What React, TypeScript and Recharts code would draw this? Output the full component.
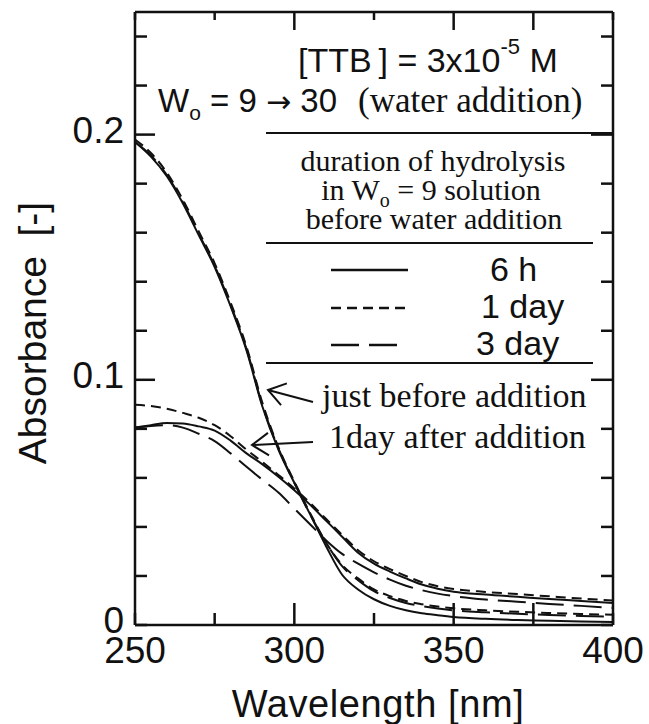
import { LineChart, Line, XAxis, YAxis } from "recharts";

const SANS = '"Liberation Sans", Arial, sans-serif';
const SERIF = '"Liberation Serif", "Times New Roman", serif';
const INK = "#111";

// wavelength grid [nm]
const wavelength = [250, 255, 260, 265, 270, 275, 280, 285, 290, 295, 300, 305, 310, 315, 320, 325, 330, 335, 340, 345, 350, 360, 370, 380, 390, 400];

// just before water addition (Wo = 9), by hydrolysis time
const before6h = [0.197, 0.191, 0.183, 0.172, 0.159, 0.146, 0.130, 0.112, 0.089, 0.0715, 0.058, 0.045, 0.032, 0.0205, 0.0145, 0.0105, 0.0078, 0.006, 0.0048, 0.004, 0.0033, 0.0025, 0.002, 0.0017, 0.0014, 0.0012];
const before1d = [0.198, 0.1925, 0.1845, 0.1735, 0.1605, 0.1475, 0.1315, 0.1135, 0.0905, 0.0725, 0.0585, 0.0455, 0.0335, 0.0245, 0.019, 0.0145, 0.0118, 0.0098, 0.0085, 0.0075, 0.0068, 0.006, 0.0054, 0.0049, 0.0045, 0.0042];
const before3d = [0.197, 0.1915, 0.1835, 0.1725, 0.1595, 0.1465, 0.1305, 0.1125, 0.0895, 0.072, 0.058, 0.045, 0.0335, 0.024, 0.0183, 0.0138, 0.011, 0.009, 0.0077, 0.0067, 0.006, 0.0052, 0.0046, 0.0041, 0.0037, 0.0034];

// 1 day after water addition (Wo = 30)
const after6h = [0.0805, 0.0815, 0.0824, 0.0822, 0.081, 0.0793, 0.0752, 0.070, 0.0655, 0.0605, 0.055, 0.049, 0.0425, 0.036, 0.0295, 0.025, 0.0218, 0.019, 0.0165, 0.0148, 0.0136, 0.0124, 0.0115, 0.0106, 0.0098, 0.009];
const after1d = [0.0898, 0.0893, 0.0882, 0.0865, 0.0845, 0.0815, 0.077, 0.0715, 0.0665, 0.0612, 0.0557, 0.0497, 0.0432, 0.0368, 0.0305, 0.026, 0.0228, 0.02, 0.0175, 0.0158, 0.0147, 0.0135, 0.0126, 0.0117, 0.0108, 0.01];
const after3d = [0.0805, 0.0812, 0.0815, 0.0805, 0.078, 0.075, 0.070, 0.0645, 0.0592, 0.054, 0.0475, 0.041, 0.0345, 0.029, 0.025, 0.0215, 0.0185, 0.016, 0.0142, 0.0128, 0.0118, 0.0104, 0.0095, 0.0086, 0.0078, 0.007];

const xTicks = [250, 275, 300, 325, 350, 375, 400];
const xMajor = [300, 350, 375];
const xLabels = [250, 300, 350, 400];
const yTicks = [0, 0.02, 0.04, 0.06, 0.08, 0.1, 0.12, 0.14, 0.16, 0.18, 0.2, 0.22, 0.24];
const yMajor = [0.1, 0.2];
const yLabels = [0, 0.1, 0.2];

const data = wavelength.map((w, i) => ({
  w,
  b6: before6h[i],
  b1: before1d[i],
  b3: before3d[i],
  a6: after6h[i],
  a1: after1d[i],
  a3: after3d[i],
}));

const has = (list: number[], v: number) => list.some((t) => Math.abs(t - v) < 1e-9);

const SHORT = "10 6";
const LONG = "28 10";

// inward ticks on all four sides of the frame
function BottomTick({ x, y, payload }: any) {
  const v = payload.value;
  const len = has(xMajor, v) ? 22 : 12;
  return (
    <g>
      <line x1={x} y1={y} x2={x} y2={y - len} stroke={INK} strokeWidth={2.5} />
      {has(xLabels, v) && (
        <text x={x} y={y + 38} textAnchor="middle" fontFamily={SANS} fontSize={37} fill={INK}>
          {v}
        </text>
      )}
    </g>
  );
}

function TopTick({ x, y, payload }: any) {
  const len = has(xMajor, payload.value) ? 18 : 8;
  return <line x1={x} y1={y} x2={x} y2={y + len} stroke={INK} strokeWidth={2.5} />;
}

function LeftTick({ x, y, payload }: any) {
  const v = payload.value;
  const len = has(yMajor, v) ? 20 : 12;
  return (
    <g>
      <line x1={x} y1={y} x2={x + len} y2={y} stroke={INK} strokeWidth={2.5} />
      {has(yLabels, v) && (
        <text x={x - 11} y={y - 4} dy="0.33em" textAnchor="end" fontFamily={SANS} fontSize={37} fill={INK}>
          {v === 0 ? "0" : v.toFixed(1)}
        </text>
      )}
    </g>
  );
}

function RightTick({ x, y, payload }: any) {
  const len = has(yMajor, payload.value) ? 22 : 12;
  return <line x1={x} y1={y} x2={x - len} y2={y} stroke={INK} strokeWidth={2.5} />;
}

function Arrow({ x1, y1, x2, y2 }: { x1: number; y1: number; x2: number; y2: number }) {
  const a = Math.atan2(y1 - y2, x1 - x2);
  const len = 20;
  const spread = 0.6;
  const p1 = `${x2 + len * Math.cos(a - spread)},${y2 + len * Math.sin(a - spread)}`;
  const p2 = `${x2 + len * Math.cos(a + spread)},${y2 + len * Math.sin(a + spread)}`;
  return (
    <g stroke={INK} strokeWidth={2} fill="none">
      <line x1={x1} y1={y1} x2={x2} y2={y2} />
      <polyline points={`${p1} ${x2},${y2} ${p2}`} />
    </g>
  );
}

function Annotations() {
  return (
    <svg width={649} height={724} style={{ position: "absolute", left: 0, top: 0, pointerEvents: "none" }}>
      <text x={298} y={72} fontFamily={SANS} fontSize={34} fill={INK}>
        [TTB{"\u2009"}] = 3x10
        <tspan dy={-18} fontSize={22}>-5</tspan>
        <tspan dy={18}> M</tspan>
      </text>
      <text x={158} y={112} fontFamily={SANS} fontSize={33} fill={INK} style={{ whiteSpace: "pre" }}>
        W<tspan dy={8} fontSize={21}>o</tspan>
        <tspan dy={-8}>{" = 9 "}</tspan>
        <tspan fontFamily='"DejaVu Sans", sans-serif' fontSize={30}>→</tspan>
        <tspan>{" 30"}</tspan>
      </text>
      <text x={358} y={112} fontFamily={SERIF} fontSize={35} fill={INK}>
        (water addition)
      </text>
      <line x1={266} y1={133} x2={613} y2={133} stroke={INK} strokeWidth={2} />

      <g fontFamily={SERIF} fontSize={30} fill={INK} textAnchor="middle">
        <text x={433} y={171}>duration of hydrolysis</text>
        <text x={431} y={200}>
          in W<tspan dy={7} fontSize={20}>o</tspan>
          <tspan dy={-7}> = 9 solution</tspan>
        </text>
        <text x={434} y={229}>before water addition</text>
      </g>
      <line x1={266} y1={243} x2={593} y2={243} stroke={INK} strokeWidth={2} />

      <g stroke={INK} strokeWidth={2.5}>
        <line x1={331} y1={270} x2={408} y2={270} />
        <line x1={331} y1={308} x2={405} y2={308} strokeDasharray={SHORT} />
        <line x1={331} y1={345} x2={405} y2={345} strokeDasharray={LONG} />
      </g>
      <g fontFamily={SANS} fontSize={34} fill={INK}>
        <text x={490} y={281}>6 h</text>
        <text x={481} y={318}>1 day</text>
        <text x={476} y={355}>3 day</text>
      </g>
      <line x1={266} y1={363} x2={593} y2={363} stroke={INK} strokeWidth={2} />

      <g fontFamily={SERIF} fontSize={34} fill={INK}>
        <text x={322} y={407}>just before addition</text>
        <text x={329} y={448}>1day after addition</text>
      </g>
      <Arrow x1={313} y1={402} x2={268} y2={390} />
      <Arrow x1={313} y1={442} x2={252} y2={445} />

      <text x={378} y={717} textAnchor="middle" fontFamily={SANS} fontSize={38} letterSpacing={0.6} fill={INK}>
        Wavelength [nm]
      </text>
      <text
        transform="translate(46,333) rotate(-90)"
        textAnchor="middle"
        fontFamily={SANS}
        fontSize={39}
        fill={INK}
      >
        Absorbance{"\u2002"}[-]
      </text>
    </svg>
  );
}

export default function App() {
  const axisLine = { stroke: INK, strokeWidth: 2.5 };
  const common = { isAnimationActive: false, dot: false, activeDot: false, stroke: INK, strokeWidth: 2, type: "monotone" as const };
  return (
    <div style={{ position: "absolute", left: 0, top: 0, width: 649, height: 724, background: "#fff" }}>
      <LineChart width={649} height={724} data={data} margin={{ top: 11, right: 35, bottom: 0, left: 0 }}>
        <XAxis
          dataKey="w"
          type="number"
          domain={[250, 400]}
          ticks={xTicks}
          interval={0}
          allowDataOverflow
          height={99}
          tickSize={0}
          tickMargin={0}
          tickLine={false}
          axisLine={axisLine}
          tick={<BottomTick />}
        />
        <XAxis
          xAxisId="top"
          dataKey="w"
          orientation="top"
          type="number"
          domain={[250, 400]}
          ticks={xTicks}
          interval={0}
          allowDataOverflow
          height={1}
          tickSize={0}
          tickMargin={0}
          tickLine={false}
          axisLine={axisLine}
          tick={<TopTick />}
        />
        <YAxis
          type="number"
          domain={[0, 0.25]}
          ticks={yTicks}
          interval={0}
          allowDataOverflow
          width={135}
          tickSize={0}
          tickMargin={0}
          tickLine={false}
          axisLine={axisLine}
          tick={<LeftTick />}
        />
        <YAxis
          yAxisId="right"
          orientation="right"
          type="number"
          domain={[0, 0.25]}
          ticks={yTicks}
          interval={0}
          allowDataOverflow
          width={1}
          tickSize={0}
          tickMargin={0}
          tickLine={false}
          axisLine={axisLine}
          tick={<RightTick />}
        />
        {/* before addition on the bottom/left axes, after addition on the top/right pair (same scales) */}
        <Line dataKey="b6" {...common} />
        <Line dataKey="b1" {...common} strokeDasharray={SHORT} />
        <Line dataKey="b3" {...common} strokeDasharray={LONG} />
        <Line dataKey="a6" xAxisId="top" yAxisId="right" {...common} />
        <Line dataKey="a1" xAxisId="top" yAxisId="right" {...common} strokeDasharray={SHORT} />
        <Line dataKey="a3" xAxisId="top" yAxisId="right" {...common} strokeDasharray={LONG} />
      </LineChart>
      <Annotations />
    </div>
  );
}
